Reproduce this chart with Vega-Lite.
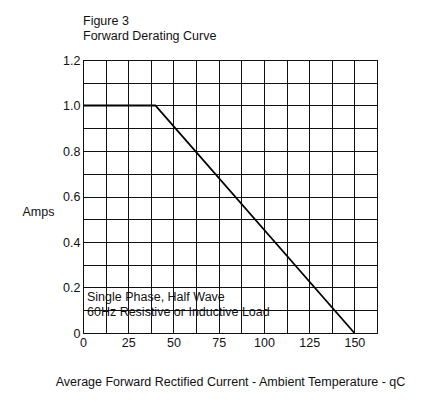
{
  "$schema": "https://vega.github.io/schema/vega-lite/v6.json",
  "width": 294,
  "height": 273,
  "autosize": {"type": "none"},
  "padding": {"left": 83, "top": 60, "right": 53, "bottom": 77},
  "background": "white",
  "title": {
    "text": ["Figure 3", "Forward Derating Curve"],
    "anchor": "start",
    "frame": "group",
    "font": "Liberation Sans",
    "fontSize": 12.5,
    "fontWeight": "normal",
    "color": "#111",
    "offset": 12,
    "lineHeight": 15
  },
  "config": {
    "view": {"stroke": "#111", "strokeWidth": 1},
    "font": "Liberation Sans"
  },
  "encoding": {
    "x": {
      "field": "t",
      "type": "quantitative",
      "scale": {"domain": [0, 162.5], "nice": false, "zero": false},
      "axis": {
        "values": [0, 12.5, 25, 37.5, 50, 62.5, 75, 87.5, 100, 112.5, 125, 137.5, 150, 162.5],
        "grid": true,
        "gridColor": "#111",
        "gridOpacity": 1,
        "gridWidth": 1,
        "ticks": false,
        "domainColor": "#111",
        "labelExpr": "datum.value % 25 == 0 ? format(datum.value, 'd') : ''",
        "labelFontSize": 12.5,
        "labelColor": "#111",
        "labelPadding": 3,
        "labelFlush": false,
        "labelOverlap": false,
        "labelBound": false,
        "title": "Average Forward Rectified Current - Ambient Temperature  - qC",
        "titleFontWeight": "normal",
        "titleFontSize": 12.5,
        "titleColor": "#111",
        "titleY": 48,
        "titleBaseline": "middle"
      }
    },
    "y": {
      "field": "a",
      "type": "quantitative",
      "scale": {"domain": [0, 1.2], "nice": false},
      "axis": {
        "values": [0, 0.1, 0.2, 0.3, 0.4, 0.5, 0.6, 0.7, 0.8, 0.9, 1.0, 1.1, 1.2],
        "grid": true,
        "gridColor": "#111",
        "gridOpacity": 1,
        "gridWidth": 1,
        "ticks": false,
        "domainColor": "#111",
        "labelExpr": "datum.value == 0 ? '0' : (round(datum.value * 10) % 2 == 0 ? format(datum.value, '.1f') : '')",
        "labelFontSize": 12.5,
        "labelColor": "#111",
        "labelPadding": 3,
        "labelFlush": false,
        "labelOverlap": false,
        "labelBound": false,
        "title": "Amps",
        "titleAngle": 0,
        "titleAlign": "left",
        "titleBaseline": "middle",
        "titleX": -61,
        "titleY": 151,
        "titleFontWeight": "normal",
        "titleFontSize": 12.5,
        "titleColor": "#111"
      }
    }
  },
  "layer": [
    {
      "data": {"values": [{"t": 0, "a": 1.0}, {"t": 40, "a": 1.0}, {"t": 150, "a": 0}]},
      "mark": {"type": "line", "color": "black", "strokeWidth": 1.8}
    },
    {
      "data": {
        "values": [
          {"t": 2.2, "a": 0.158, "label": "Single Phase, Half Wave"},
          {"t": 2.2, "a": 0.092, "label": "60Hz Resistive or Inductive Load"}
        ]
      },
      "mark": {"type": "text", "align": "left", "baseline": "middle", "fontSize": 12.5, "font": "Liberation Sans", "color": "#111"},
      "encoding": {
        "text": {"field": "label"}
      }
    }
  ]
}
